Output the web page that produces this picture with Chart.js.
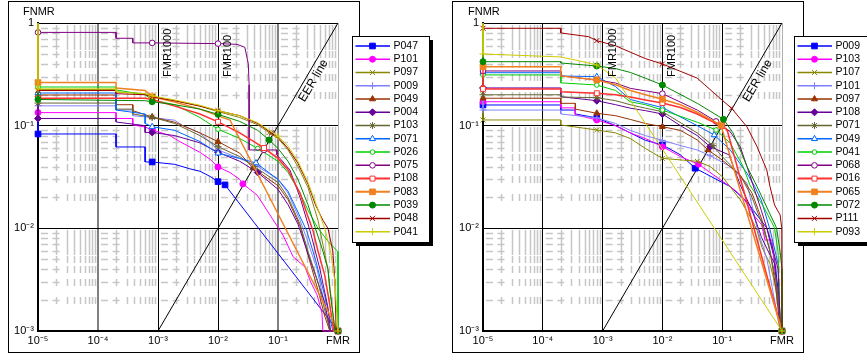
<!DOCTYPE html>
<html>
<head>
<meta charset="utf-8">
<script src="https://cdn.jsdelivr.net/npm/chart.js@4.4.0/dist/chart.umd.min.js"></script>
<style>
  body { margin: 0; background: #fff; width: 867px; height: 356px; overflow: hidden; position: relative; }
  canvas { position: absolute; top: 0; }
  #c1 { left: 0; }
  #c2 { left: 440px; }
</style>
</head>
<body>
<canvas id="c1" width="436" height="356"></canvas>
<canvas id="c2" width="427" height="356"></canvas>
<script>
// Axis ticks and labels
const xTicks = [1e-5, 1e-4, 1e-3, 1e-2, 1e-1, 1];
const xTickLabels = ['10⁻⁵', '10⁻⁴', '10⁻³', '10⁻²', '10⁻¹', 'FMR'];
const yTicks = [1e-3, 1e-2, 1e-1, 1];
const yTickLabels = ['10⁻³', '10⁻²', '10⁻¹', '1'];
const fmrPoints = [8e-4, 1e-2];
const fmrLabels = ['FMR1000', 'FMR100'];
const fmrLabelAt = [1e-3, 1e-2];
const eerLine = [[1e-3, 1e-3], [1, 1]];

const leftNames = ['P047', 'P101', 'P097', 'P009', 'P049', 'P004', 'P103', 'P071', 'P026', 'P075', 'P108', 'P083', 'P039', 'P048', 'P041'];
const rightNames = ['P009', 'P103', 'P107', 'P101', 'P097', 'P108', 'P071', 'P049', 'P041', 'P068', 'P016', 'P065', 'P072', 'P111', 'P093'];

// Left panel DET curves, [FMR, FNMR]
const L_P047 = [[1e-5,1],[1e-5,0.083],[2e-4,0.083],[2e-4,0.062],[6.1e-4,0.062],[6.1e-4,0.0443],[8e-4,0.0443],[1.9e-3,0.042],[3.4e-3,0.038],[5e-3,0.036],[7.4e-3,0.032],[1e-2,0.0285],[1.31e-2,0.0265],[1,0.001]];
const L_P101 = [[1e-5,1],[1e-5,0.134],[2e-4,0.134],[2e-4,0.1175],[3.8e-4,0.1175],[3.8e-4,0.1016],[6.1e-4,0.097],[8e-4,0.091],[1.58e-3,0.08],[2.3e-3,0.07],[3.4e-3,0.062],[5e-3,0.055],[7.4e-3,0.047],[1e-2,0.0396],[1.58e-2,0.035],[2.3e-2,0.03],[2.6e-2,0.0271],[4.47e-2,0.0211],[7.35e-2,0.0135],[0.121,0.0086],[0.178,0.0053],[0.282,0.0042],[0.35,0.003],[0.447,0.00225],[0.54,0.0015],[0.56,0.001],[1,0.001]];
const L_P097 = [[1e-5,1],[1e-5,0.225],[2e-4,0.225],[2e-4,0.213],[6.1e-4,0.205],[8e-4,0.191],[1.9e-3,0.175],[5e-3,0.155],[1e-2,0.137],[2.3e-2,0.12],[4.6e-2,0.102],[7.1e-2,0.0855],[0.1,0.075],[0.147,0.058],[0.215,0.04],[0.316,0.025],[0.464,0.012],[0.68,0.004],[0.82,0.0015],[0.89,0.001],[1,0.001]];
const L_P009 = [[1e-5,1],[1e-5,0.156],[2e-4,0.156],[2e-4,0.142],[3.8e-4,0.142],[3.8e-4,0.125],[8e-4,0.12],[1.9e-3,0.113],[2.6e-3,0.1],[5e-3,0.085],[1e-2,0.058],[2.3e-2,0.048],[4.6e-2,0.04],[0.1,0.03],[0.147,0.022],[0.233,0.012],[0.3,0.008],[0.447,0.004],[0.6,0.0018],[0.73,0.001],[1,0.001]];
const L_P049 = [[1e-5,1],[1e-5,0.199],[2e-4,0.199],[2e-4,0.16],[3.8e-4,0.16],[3.8e-4,0.14],[6.1e-4,0.128],[8e-4,0.1216],[1.9e-3,0.108],[5e-3,0.085],[1e-2,0.0699],[2.3e-2,0.054],[3.83e-2,0.0387],[0.1,0.026],[0.147,0.019],[0.233,0.0105],[0.316,0.0055],[0.464,0.0025],[0.6,0.0014],[0.73,0.001],[1,0.001]];
const L_P004 = [[1e-5,1],[1e-5,0.1175],[2e-4,0.1175],[2e-4,0.1086],[6.1e-4,0.1],[6.1e-4,0.0859],[8e-4,0.0859],[1.9e-3,0.08],[5e-3,0.068],[1e-2,0.055],[2.3e-2,0.045],[4.6e-2,0.035],[0.1,0.024],[0.147,0.017],[0.215,0.011],[0.3,0.0062],[0.42,0.0035],[0.6,0.0019],[0.73,0.00105],[0.75,0.001],[1,0.001]];
const L_P103 = [[1e-5,1],[1e-5,0.166],[2e-4,0.166],[2e-4,0.145],[3.8e-4,0.145],[3.8e-4,0.13],[8e-4,0.121],[1.9e-3,0.105],[5e-3,0.08],[1e-2,0.0624],[2.3e-2,0.05],[4e-2,0.04],[0.1,0.028],[0.147,0.02],[0.233,0.011],[0.316,0.006],[0.464,0.003],[0.6,0.0016],[0.75,0.001],[1,0.001]];
const L_P071 = [[1e-5,1],[1e-5,0.208],[2e-4,0.208],[2e-4,0.142],[6.1e-4,0.13],[6.1e-4,0.105],[8e-4,0.0978],[1.9e-3,0.09],[5e-3,0.07],[1e-2,0.0539],[2.3e-2,0.048],[4.3e-2,0.0433],[0.1,0.03],[0.147,0.023],[0.233,0.013],[0.3,0.0095],[0.42,0.005],[0.6,0.0022],[0.82,0.001],[1,0.001]];
const L_P026 = [[1e-5,1],[1e-5,0.238],[2e-4,0.238],[2e-4,0.223],[6.1e-4,0.2],[8e-4,0.178],[1.9e-3,0.16],[5e-3,0.12],[1e-2,0.0923],[2.3e-2,0.075],[4.6e-2,0.06],[0.1,0.045],[0.147,0.035],[0.233,0.022],[0.316,0.015],[0.464,0.01],[0.68,0.0075],[1,0.0059],[1,0.001]];
const L_P075 = [[1e-5,1],[1e-5,0.81],[2e-4,0.81],[2e-4,0.71],[3.8e-4,0.71],[3.8e-4,0.64],[8e-4,0.64],[1e-2,0.63],[2.07e-2,0.62],[2.8e-2,0.58],[3.2e-2,0.4],[3.3e-2,0.25],[3.3e-2,0.058],[5.85e-2,0.058],[9.6e-2,0.058],[9.6e-2,0.052],[0.158,0.037],[0.233,0.02],[0.35,0.009],[0.5,0.004],[0.68,0.0017],[0.75,0.001],[1,0.001]];
const L_P108 = [[1e-5,1],[1e-5,0.185],[6.1e-4,0.185],[8e-4,0.18],[1.9e-3,0.155],[5e-3,0.13],[1e-2,0.109],[2.3e-2,0.085],[4.3e-2,0.068],[5.85e-2,0.0605],[0.1,0.048],[0.147,0.037],[0.233,0.022],[0.316,0.013],[0.383,0.0095],[0.464,0.006],[0.6,0.0035],[0.73,0.0018],[0.85,0.001],[1,0.001]];
const L_P083 = [[1e-5,1],[1e-5,0.263],[2e-4,0.263],[2e-4,0.233],[6.1e-4,0.22],[8e-4,0.191],[1.9e-3,0.17],[5e-3,0.145],[1.58e-2,0.1136],[1,0.001]];
const L_P039 = [[1e-5,1],[1e-5,0.18],[6.1e-4,0.175],[8e-4,0.171],[1.9e-3,0.16],[5e-3,0.145],[1e-2,0.129],[2.3e-2,0.11],[4.6e-2,0.09],[7.1e-2,0.0726],[0.1,0.06],[0.147,0.045],[0.215,0.03],[0.316,0.017],[0.42,0.01],[0.56,0.006],[0.68,0.004],[0.73,0.0025],[0.82,0.0015],[0.89,0.001],[1,0.001]];
const L_P048 = [[1e-5,1],[1e-5,0.22],[2e-4,0.22],[2e-4,0.205],[6.1e-4,0.2],[8e-4,0.191],[1.9e-3,0.175],[5e-3,0.155],[1e-2,0.14],[2.3e-2,0.125],[4.6e-2,0.105],[7.8e-2,0.085],[0.1,0.077],[0.147,0.06],[0.215,0.043],[0.316,0.027],[0.42,0.017],[0.56,0.012],[0.68,0.01],[0.82,0.006],[0.89,0.003],[0.93,0.001],[1,0.001]];
const L_P041 = [[1e-5,1],[1e-5,0.228],[2e-4,0.228],[2e-4,0.213],[6.1e-4,0.205],[8e-4,0.195],[1.9e-3,0.178],[5e-3,0.158],[1e-2,0.14],[2.3e-2,0.125],[4.6e-2,0.107],[7.1e-2,0.09],[0.1,0.079],[0.147,0.063],[0.215,0.045],[0.316,0.028],[0.42,0.018],[0.6,0.01],[0.75,0.006],[0.89,0.003],[0.95,0.0015],[1,0.001]];

// Right panel DET curves
const R_P009 = [[1e-5,1],[1e-5,0.159],[2e-4,0.159],[2e-4,0.142],[3.5e-4,0.142],[3.5e-4,0.13],[8e-4,0.119],[1.65e-3,0.1],[2.9e-3,0.085],[5.2e-3,0.072],[1e-2,0.0649],[0.02,0.052],[0.0355,0.0385],[0.136,0.0255],[0.258,0.0182],[0.556,0.0101],[0.75,0.005],[0.9,0.002],[0.95,0.001],[1,0.001]];
const R_P103 = [[1e-5,1],[1e-5,0.171],[2e-4,0.171],[2e-4,0.149],[3.5e-4,0.149],[3.5e-4,0.128],[8e-4,0.1136],[1.65e-3,0.1],[2.9e-3,0.085],[5.2e-3,0.075],[1e-2,0.0624],[0.02,0.05],[0.04,0.0421],[0.136,0.0255],[0.176,0.0227],[0.224,0.0198],[0.355,0.013],[0.457,0.0108],[0.52,0.0077],[0.68,0.0077],[0.8,0.003],[0.9,0.0015],[0.95,0.001],[1,0.001]];
const R_P107 = [[1e-5,1],[1e-5,0.1136],[2e-4,0.1136],[2e-4,0.1016],[8e-4,0.0908],[1.65e-3,0.085],[2.9e-3,0.075],[5.2e-3,0.06],[1e-2,0.048],[0.0383,0.045],[0.063,0.04],[0.1,0.032],[0.2,0.019],[0.316,0.012],[0.383,0.0095],[0.464,0.0065],[0.63,0.0045],[0.75,0.003],[0.9,0.0015],[1,0.001]];
const R_P101 = [[1e-5,1],[1e-5,0.142],[2e-4,0.142],[2e-4,0.13],[8e-4,0.119],[1.65e-3,0.105],[2.9e-3,0.09],[5.2e-3,0.08],[1e-2,0.072],[0.02,0.064],[0.0383,0.058],[0.063,0.051],[0.136,0.04],[0.26,0.0275],[0.383,0.0101],[0.56,0.005],[0.75,0.002],[0.93,0.001],[1,0.001]];
const R_P097 = [[1e-5,1],[1e-5,0.185],[2e-4,0.185],[2e-4,0.165],[3.5e-4,0.165],[3.5e-4,0.145],[8e-4,0.132],[1.65e-3,0.125],[2.9e-3,0.115],[5.2e-3,0.105],[1e-2,0.0978],[0.02,0.09],[0.0383,0.0726],[0.058,0.058],[0.1,0.0463],[0.2,0.033],[0.316,0.022],[0.464,0.012],[0.63,0.006],[0.8,0.0025],[0.93,0.001],[1,0.001]];
const R_P108 = [[1e-5,1],[1e-5,0.233],[2e-4,0.233],[2e-4,0.1915],[8e-4,0.175],[1.65e-3,0.16],[2.9e-3,0.148],[5.2e-3,0.14],[1e-2,0.13],[0.02,0.1],[0.0383,0.08],[0.063,0.0624],[0.13,0.052],[0.2,0.0265],[0.316,0.015],[0.457,0.0081],[0.63,0.0055],[0.75,0.0046],[0.86,0.002],[0.93,0.001],[1,0.001]];
const R_P071 = [[1e-5,1],[1e-5,0.2],[2e-4,0.2],[2e-4,0.19],[8e-4,0.1874],[1.65e-3,0.175],[2.9e-3,0.16],[5.2e-3,0.148],[1e-2,0.137],[0.0383,0.0849],[0.07,0.064],[0.1,0.05],[0.2,0.033],[0.316,0.02],[0.464,0.011],[0.63,0.006],[0.8,0.003],[0.93,0.0012],[1,0.001]];
const R_P049 = [[1e-5,1],[1e-5,0.328],[2e-4,0.328],[2e-4,0.305],[8e-4,0.3],[1.65e-3,0.24],[2.9e-3,0.18],[5.2e-3,0.165],[1e-2,0.15],[0.0383,0.1],[0.0735,0.0812],[0.136,0.058],[0.26,0.0344],[0.35,0.0255],[0.45,0.0189],[0.63,0.0097],[0.86,0.0045],[0.93,0.001],[1,0.001]];
const R_P041 = [[1e-5,1],[1e-5,0.312],[2e-4,0.312],[2e-4,0.261],[8e-4,0.249],[1.65e-3,0.22],[2.9e-3,0.171],[5.2e-3,0.16],[1e-2,0.142],[0.0383,0.108],[0.079,0.0908],[0.136,0.068],[0.224,0.04],[0.29,0.0265],[0.5,0.016],[0.75,0.0101],[0.86,0.0059],[0.93,0.0011],[1,0.001]];
const R_P068 = [[1e-5,1],[1e-5,0.341],[2e-4,0.341],[2e-4,0.305],[8e-4,0.279],[1.65e-3,0.26],[2.9e-3,0.231],[1e-2,0.205],[0.0383,0.142],[0.079,0.11],[0.136,0.0874],[0.2,0.0624],[0.26,0.0399],[0.45,0.015],[0.63,0.008],[0.86,0.004],[0.93,0.0012],[1,0.001]];
const R_P016 = [[1e-5,1],[1e-5,0.228],[2e-4,0.228],[2e-4,0.214],[8e-4,0.207],[1.65e-3,0.2],[2.9e-3,0.19],[5.2e-3,0.178],[1e-2,0.166],[0.02,0.15],[0.0383,0.13],[0.063,0.112],[0.1,0.0993],[0.121,0.0908],[1,0.001]];
const R_P065 = [[1e-5,1],[1e-5,0.375],[2e-4,0.375],[2e-4,0.305],[8e-4,0.279],[1.65e-3,0.25],[2.9e-3,0.22],[5.2e-3,0.2],[1e-2,0.181],[0.02,0.16],[0.0383,0.135],[0.063,0.115],[0.095,0.1016],[1,0.001]];
const R_P072 = [[1e-5,1],[1e-5,0.42],[2e-4,0.42],[2e-4,0.408],[8e-4,0.381],[1.65e-3,0.36],[2.9e-3,0.33],[5.2e-3,0.29],[1e-2,0.249],[0.0383,0.165],[0.105,0.1154],[0.152,0.0849],[0.2,0.058],[0.26,0.04],[0.383,0.0255],[0.81,0.0101],[0.93,0.0059],[1,0.004],[1,0.001]];
const R_P111 = [[1e-5,1],[1e-5,0.888],[2e-4,0.888],[2e-4,0.8],[5.8e-4,0.736],[8e-4,0.673],[1.65e-3,0.6],[2.9e-3,0.52],[5.2e-3,0.45],[1e-2,0.399],[0.0383,0.29],[0.0915,0.185],[0.143,0.148],[0.258,0.0978],[0.383,0.0624],[0.556,0.0371],[0.63,0.0255],[0.75,0.0169],[0.93,0.0135],[0.99,0.0101],[1,0.001]];
const R_P093 = [[1e-5,1],[1e-5,0.499],[2e-4,0.467],[3.5e-4,0.436],[8e-4,0.39],[1.65e-3,0.291],[1,0.001]];

const leftCurves = [L_P047, L_P101, L_P097, L_P009, L_P049, L_P004, L_P103, L_P071, L_P026, L_P075, L_P108, L_P083, L_P039, L_P048, L_P041];
const rightCurves = [R_P009, R_P103, R_P107, R_P101, R_P097, R_P108, R_P071, R_P049, R_P041, R_P068, R_P016, R_P065, R_P072, R_P111, R_P093];

// Series styles (same sequence in both panels)
const COLORS = ['#0000ff', '#ff00ff', '#888800', '#8080ff', '#993300', '#660099', '#666633', '#0066ff', '#00cc00', '#800080', '#ff3030', '#f08020', '#008800', '#a00000', '#cccc00'];
const MARKERS = ['rect', 'circle', 'crossRot', 'cross', 'triangle', 'rectRot', 'star', 'triangle', 'circle', 'circle', 'rect', 'rect', 'circle', 'crossRot', 'cross'];
const FILLED = [1, 1, 0, 0, 1, 1, 0, 0, 0, 0, 0, 1, 1, 0, 0];
const RADIUS = [4, 3, 3.5, 3.5, 3.5, 3.5, 3.5, 3.5, 2.3, 2.8, 3.5, 4, 3, 3.5, 3.5];
const WIDTHS = [1, 1, 1, 1, 1, 1, 1, 1, 1, 1, 1.5, 1.5, 1, 1, 1];
const FONT = '"Liberation Sans", Arial, sans-serif';

Chart.defaults.font.family = FONT;

function eerIndex(pts) {
  let best = -1, bestD = 0.35;
  pts.forEach((p, i) => {
    if (p.x <= 1e-5 || p.x >= 1) return;
    const d = Math.abs(Math.log10(p.x) - Math.log10(p.y));
    if (d < bestD) { bestD = d; best = i; }
  });
  return best;
}

function buildDatasets(names, curves) {
  const sets = names.map((name, i) => {
    const pts = curves[i].map(([x, y]) => ({ x, y }));
    const eer = eerIndex(pts);
    const radius = pts.map((p, j) =>
      (p.x === 1e-5 && p.y < 1) || fmrPoints.includes(p.x) || (p.x === 1 && p.y === 1e-3) || j === eer ? RADIUS[i] : 0);
    return {
      label: name, data: pts, order: -i, clip: false,
      borderColor: COLORS[i], borderWidth: WIDTHS[i],
      pointStyle: MARKERS[i], pointRadius: radius,
      pointBackgroundColor: FILLED[i] ? COLORS[i] : '#fff',
      pointBorderColor: COLORS[i], pointBorderWidth: 1
    };
  });
  sets.push({
    label: 'EER line', guide: true, data: eerLine.map(([x, y]) => ({ x, y })),
    order: 100, borderColor: '#000', borderWidth: 1, pointRadius: 0
  });
  return sets;
}

// frame, minor grid, annotations and boxed legend
const panelDecor = {
  id: 'panelDecor',
  beforeDraw(chart, args, o) {
    const { ctx } = chart;
    ctx.save();
    ctx.strokeStyle = '#000';
    ctx.lineWidth = 1;
    ctx.strokeRect(o.frame[0] + 0.5, o.frame[1] + 0.5, o.frame[2], o.frame[3]);
    ctx.restore();
  },
  beforeDatasetsDraw(chart) {
    const { ctx, scales: { x, y } } = chart;
    ctx.save();
    ctx.strokeStyle = '#c6c6c6';
    ctx.lineWidth = 1.5;
    ctx.beginPath();
    for (let dy = -3; dy < 0; dy++) {
      for (let my = 2; my <= 9; my++) {
        const py = Math.round(y.getPixelForValue(my * Math.pow(10, dy))) + 0.5;
        for (let dx = -5; dx < 0; dx++) {
          const x0 = x.getPixelForValue(Math.pow(10, dx));
          const x2 = x.getPixelForValue(2 * Math.pow(10, dx));
          ctx.moveTo(x0 + 3, py); ctx.lineTo(x0 + 10, py);
          ctx.moveTo(x2 - 3.5, py); ctx.lineTo(x2 + 3.5, py);
          for (let mx = 2; mx <= 9; mx++) {
            const px = Math.round(x.getPixelForValue(mx * Math.pow(10, dx))) + 0.5;
            ctx.moveTo(px, py - 3.5); ctx.lineTo(px, py + 3.5);
          }
        }
      }
    }
    ctx.stroke();
    ctx.restore();
  },
  afterDatasetsDraw(chart) {
    const { ctx, chartArea: a, scales: { x, y } } = chart;
    ctx.save();
    ctx.fillStyle = '#000';
    ctx.font = '11px ' + FONT;
    ctx.textBaseline = 'middle';
    ctx.fillText('FNMR', a.left - 15, 12);

    ctx.textBaseline = 'alphabetic';
    fmrLabels.forEach((t, i) => {
      ctx.save();
      ctx.translate(x.getPixelForValue(fmrLabelAt[i]) + 13, a.top + 54);
      ctx.rotate(-Math.PI / 2);
      ctx.fillText(t, 0, 0);
      ctx.restore();
    });

    const ang = Math.atan2(y.getPixelForValue(1) - y.getPixelForValue(1e-3),
                           x.getPixelForValue(1) - x.getPixelForValue(1e-3));
    ctx.translate(x.getPixelForValue(0.3), y.getPixelForValue(0.3));
    ctx.rotate(ang);
    ctx.font = '12px ' + FONT;
    ctx.textAlign = 'center';
    ctx.textBaseline = 'top';
    ctx.fillText('EER line', 0, 2);
    ctx.restore();
  },
  afterDraw(chart, args, o) {
    const { ctx } = chart;
    const [lx, ly] = o.legend;
    const w = 77, h = 206;
    ctx.save();
    ctx.fillStyle = '#000';
    ctx.fillRect(lx + 4, ly + 4, w, h);
    ctx.fillStyle = '#fff';
    ctx.fillRect(lx, ly, w, h);
    ctx.strokeStyle = '#000';
    ctx.lineWidth = 1;
    ctx.strokeRect(lx + 0.5, ly + 0.5, w, h);
    chart.data.datasets.forEach((ds, i) => {
      if (ds.guide) return;
      const ry = ly + 10 + i * 13.26;
      ctx.strokeStyle = COLORS[i];
      ctx.lineWidth = WIDTHS[i] + 0.5;
      ctx.beginPath();
      ctx.moveTo(lx + 3.5, ry);
      ctx.lineTo(lx + 38, ry);
      ctx.stroke();
      ctx.lineWidth = 1;
      ctx.fillStyle = FILLED[i] ? COLORS[i] : '#fff';
      Chart.helpers.drawPoint(ctx, { pointStyle: MARKERS[i], radius: RADIUS[i], rotation: 0, borderWidth: 1 }, lx + 20.5, ry);
      ctx.fillStyle = '#000';
      ctx.font = '10.5px ' + FONT;
      ctx.textBaseline = 'middle';
      ctx.fillText(ds.label, lx + 41.5, ry);
    });
    ctx.restore();
  }
};

function buildScales(gridColorsX, gridWidthsX) {
  return {
    x: {
      type: 'logarithmic', min: 1e-5, max: 1,
      afterBuildTicks: s => { s.ticks = xTicks.map(v => ({ value: v })); },
      afterFit: s => { s.height = 20; },
      ticks: { autoSkip: false, maxRotation: 0, padding: 3, color: '#000', font: { size: 11 },
               callback: (v, i) => xTickLabels[i] },
      grid: { drawTicks: false, color: c => gridColorsX[c.index], lineWidth: c => gridWidthsX[c.index] },
      border: { color: '#000', width: 2 }
    },
    y: {
      type: 'logarithmic', min: 1e-3, max: 1,
      afterBuildTicks: s => { s.ticks = yTicks.map(v => ({ value: v })); },
      afterFit: s => { s.width = 38; },
      ticks: { autoSkip: false, padding: 4, color: '#000', font: { size: 11 },
               callback: (v, i) => yTickLabels[i] },
      grid: { drawTicks: false, color: c => (c.index === 0 ? 'rgba(0,0,0,0)' : '#000'), lineWidth: 1 },
      border: { color: '#000', width: 2 }
    }
  };
}

function buildPanel(id, names, curves, gridColorsX, gridWidthsX, padding, decor) {
  new Chart(document.getElementById(id), {
    type: 'line',
    data: { datasets: buildDatasets(names, curves) },
    options: {
      responsive: false,
      animation: false,
      events: [],
      elements: { line: { tension: 0 } },
      layout: { padding },
      scales: buildScales(gridColorsX, gridWidthsX),
      plugins: { legend: { display: false }, tooltip: { enabled: false }, panelDecor: decor }
    },
    plugins: [panelDecor]
  });
}

buildPanel('c1', leftNames, leftCurves,
  ['rgba(0,0,0,0)', '#808080', '#000', '#000', '#808080', '#b0b0b0'], [1, 2, 1, 1, 2, 1],
  { left: 0, top: 23, right: 98, bottom: 5 },
  { frame: [8, 1, 351, 351], legend: [352, 36] });

buildPanel('c2', rightNames, rightCurves,
  ['rgba(0,0,0,0)', '#000', '#000', '#000', '#000', '#b0b0b0'], [1, 1, 1, 1, 1, 1],
  { left: 5, top: 23, right: 85, bottom: 5 },
  { frame: [12, 1, 351, 351], legend: [354, 36] });
</script>
</body>
</html>
